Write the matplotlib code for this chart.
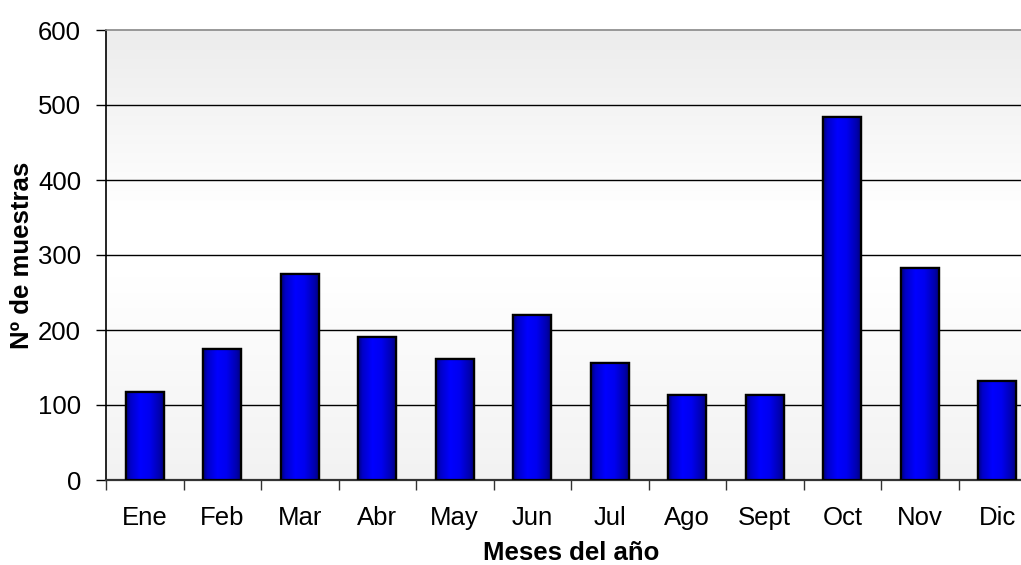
import matplotlib
matplotlib.use("Agg")
import matplotlib.pyplot as plt
import numpy as np
from matplotlib.colors import LinearSegmentedColormap

months = ["Ene", "Feb", "Mar", "Abr", "May", "Jun", "Jul", "Ago", "Sept", "Oct", "Nov", "Dic"]
samples = [117, 175, 275, 191, 161, 220, 156, 114, 114, 484, 283, 132]
yticks = [0, 100, 200, 300, 400, 500, 600]

plt.rcParams['font.family'] = ['Liberation Sans', 'DejaVu Sans']

fig = plt.figure(figsize=(10.21, 5.65), dpi=100)
ax = fig.add_axes([106/1021, 85/565, 930/1021, 450/565])

n = len(months)
x = np.arange(n)

# background gradient (vertical)
bg_cmap = LinearSegmentedColormap.from_list(
    "bg", [(0.0, "#f2f2f2"), (0.45, "#ffffff"), (0.6, "#ffffff"), (1.0, "#ececec")])
grad = np.linspace(0, 1, 256).reshape(-1, 1)
ax.imshow(grad, extent=[0, 1, 0, 1], transform=ax.transAxes, aspect='auto',
          cmap=bg_cmap, origin='lower', zorder=0)

# grid lines
for t in yticks[1:-1]:
    ax.axhline(t, color='black', lw=1.0, zorder=1)

bars = ax.bar(x, samples, width=0.49, color='#0000ff', edgecolor='black',
              linewidth=1.6, zorder=3)

bar_cmap = LinearSegmentedColormap.from_list(
    "barg", [(0.0, "#00007a"), (0.12, "#0000c8"), (0.38, "#0000ff"),
             (0.62, "#0000f0"), (0.88, "#0000b0"), (1.0, "#000080")])
hgrad = np.linspace(0, 1, 256).reshape(1, -1)
for b in bars:
    x0 = b.get_x()
    w = b.get_width()
    h = b.get_height()
    im = ax.imshow(hgrad, extent=[x0, x0 + w, 0, h], aspect='auto',
                   cmap=bar_cmap, origin='lower', zorder=3.5)
    im.set_clip_path(b)
    ax.add_patch(plt.Rectangle((x0, 0), w, h, fill=False, edgecolor='black',
                               linewidth=1.6, zorder=4))

ax.set_xlim(-0.5, n - 0.5)
ax.set_ylim(0, 600)
ax.set_aspect('auto')

fs = 18.5
ax.set_yticks(yticks)
ax.set_yticklabels([str(t) for t in yticks], fontsize=fs)
ax.set_xticks(x)
ax.set_xticklabels(months, fontsize=fs)
ax.tick_params(axis='x', which='major', length=0, pad=19)
ax.set_xticks(np.arange(n + 1) - 0.5, minor=True)
ax.tick_params(axis='x', which='minor', length=7, width=1.0, color='#333333')
ax.tick_params(axis='y', length=7, width=1.0, pad=11)

ax.spines['left'].set_color('black')
ax.spines['left'].set_linewidth(1.2)
ax.spines['bottom'].set_color('#333333')
ax.spines['bottom'].set_linewidth(1.6)
ax.spines['top'].set_color('#888888')
ax.spines['top'].set_linewidth(1.2)
ax.spines['right'].set_visible(False)

ax.set_xlabel("Meses del año", fontsize=fs, fontweight='bold', labelpad=8)
ax.set_ylabel("Nº de muestras", fontsize=fs, fontweight='bold')
ax.yaxis.set_label_coords(-(106 - 34) / 930, 0.5)

fig.savefig("out.png", dpi=100)
